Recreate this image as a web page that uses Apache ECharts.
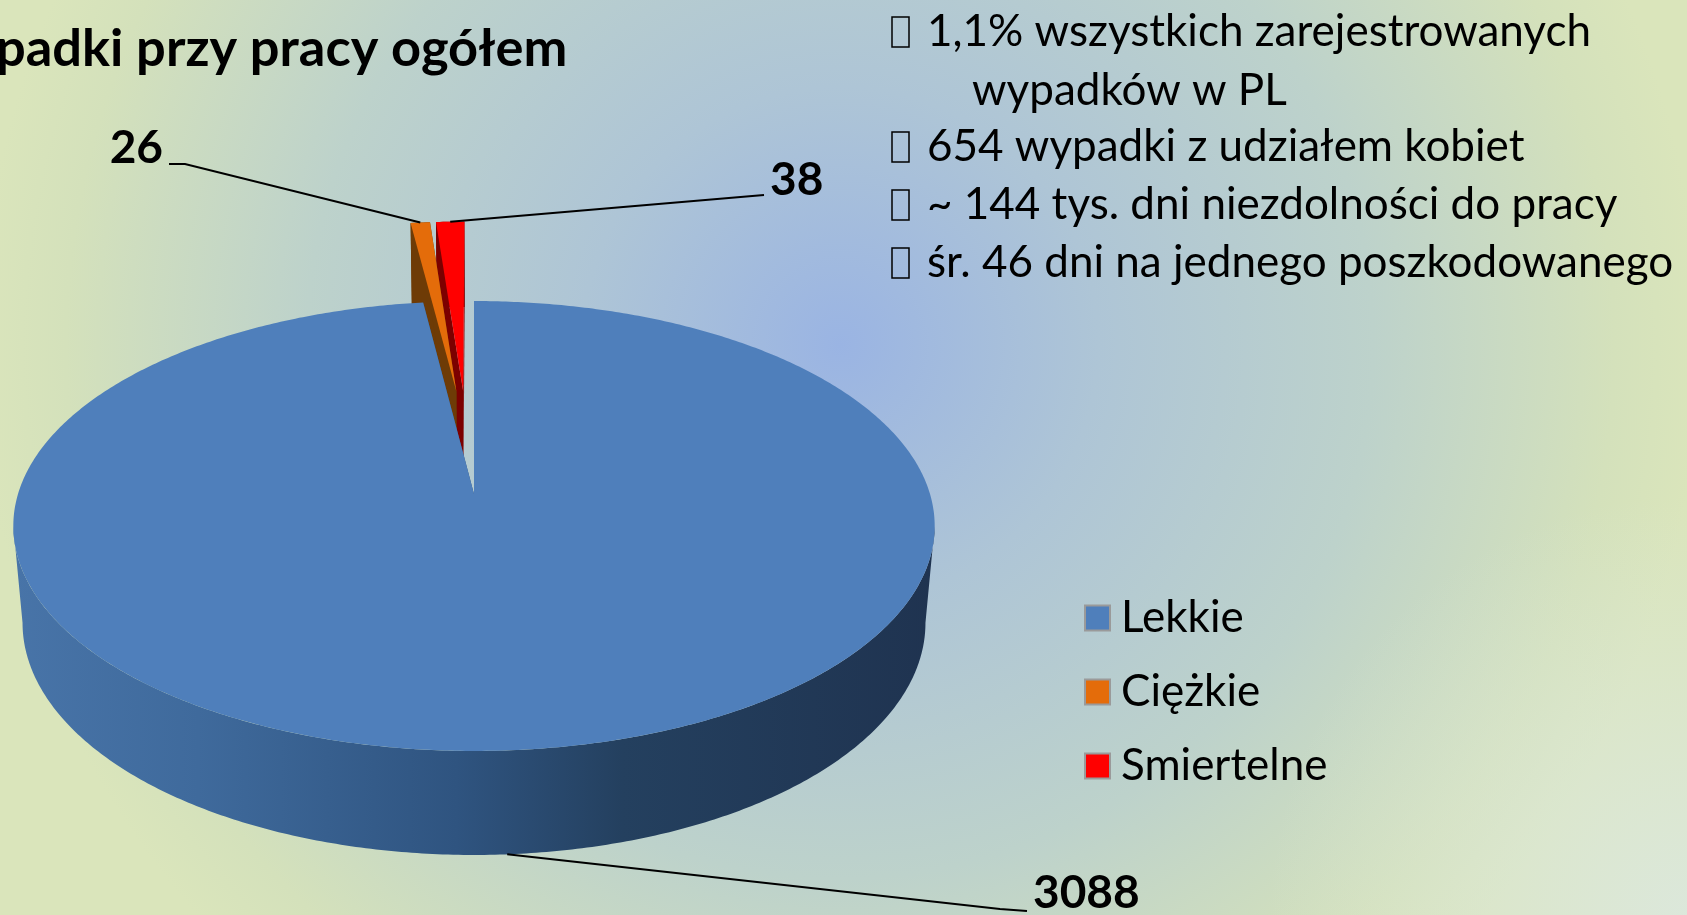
<!DOCTYPE html>
<html>
<head>
<meta charset="utf-8">
<title>Wypadki przy pracy</title>
<style>
    html, body { margin: 0; padding: 0; }
    #main { width: 1687px; height: 915px; }
</style>
<script src="https://cdn.jsdelivr.net/npm/echarts@6/dist/echarts.min.js"></script>
</head>
<body>
<div id="main"></div>
<script>
const categories = ['Lekkie', 'Ciężkie', 'Smiertelne'];
const values = [3088, 26, 38];
const titleText = 'padki przy pracy ogółem';
const noteLines = [
    '1,1% wszystkich zarejestrowanych',
    'wypadków w PL',
    '654 wypadki z udziałem kobiet',
    '~ 144 tys. dni niezdolności do pracy',
    'śr. 46 dni na jednego poszkodowanego'
];

const topColors = ['#4f7fbb', '#e46c0a', '#ff0000'];
const sideColors = ['#2f5480', '#6e3b06', '#7c0000'];
const fontName = 'Lato';

// projected disc: perspective so the near half is larger than the far half
const originX = 474, originY = 494, radiusX = 456, radiusY = 220.4, persp = 0.1422;
const depth = 95.7, wallPersp = 0.08, bottomScale = 0.98, explode = 0.25;

const total = values.reduce(function (a, b) { return a + b; }, 0);
const slices = [];
let acc = 0;
values.forEach(function (v) {
    const start = acc / total * Math.PI * 2;
    acc += v;
    const end = acc / total * Math.PI * 2;
    slices.push({ start: start, end: end, mid: (start + end) / 2 });
});

function offset(i) {
    // every slice is pushed out along its bisector, the big one is the origin
    const m = slices[i].mid, b = slices[0].mid;
    return [explode * (Math.sin(m) - Math.sin(b)), -explode * (Math.cos(m) - Math.cos(b))];
}
function project(u, v, low) {
    const w = 1 - persp * v;
    let x = originX + radiusX * u / w;
    let y = originY + radiusY * v / w;
    if (low) {
        x = originX + (x - originX) * bottomScale;
        y += depth / (1 - wallPersp * v);
    }
    return [x, y];
}
function apex(i, low) {
    const o = offset(i);
    return project(o[0], o[1], low);
}
function rim(i, t, low) {
    const o = offset(i);
    return project(o[0] + Math.sin(t), o[1] - Math.cos(t), low);
}
function rimPoints(i, from, to, low) {
    const n = Math.max(2, Math.ceil((to - from) / 0.01));
    const pts = [];
    for (let k = 0; k <= n; k++) {
        pts.push(rim(i, from + (to - from) * k / n, low));
    }
    return pts;
}

// leader lines: start on the rim of the slice, then elbow and end by hand
const callouts = [
    { low: true, elbow: [1000, 909], end: [1027, 911], text: [1033, 893], align: 'left' },
    { low: false, elbow: [185, 164], end: [169, 164], text: [163, 148], align: 'right' },
    { low: false, elbow: [764, 195], end: [764, 195], text: [770, 180], align: 'left' }
];

function wallFill(i) {
    if (i !== 0) {
        return sideColors[i];
    }
    return {
        type: 'linear', x: 14, y: 0, x2: 936, y2: 0, global: true,
        colorStops: [
            { offset: 0, color: '#4874a8' },
            { offset: 0.2, color: '#3f6a9c' },
            { offset: 0.48, color: '#2f5480' },
            { offset: 0.66, color: '#24405f' },
            { offset: 1, color: '#1f3350' }
        ]
    };
}

function renderSlice(i) {
    return function () {
        const s = slices[i];
        const upper = rimPoints(i, s.start, s.end, false);
        const a = apex(i, false), aLow = apex(i, true);
        const children = [];
        const poly = function (points, fill) {
            children.push({ type: 'polygon', shape: { points: points }, style: { fill: fill } });
        };
        // big slice: wall runs between the two tangent points of the rim, so the ends give the straight silhouette
        const tangent = Math.acos(-persp);
        const wallFrom = i === 0 ? tangent : s.start;
        const wallTo = i === 0 ? Math.PI * 2 - tangent : s.end;
        poly(rimPoints(i, wallFrom, wallTo, false).concat(rimPoints(i, wallFrom, wallTo, true).reverse()), wallFill(i));
        poly([a, rim(i, s.start, false), rim(i, s.start, true), aLow], sideColors[i]);
        poly([a, rim(i, s.end, false), rim(i, s.end, true), aLow], sideColors[i]);
        poly([a].concat(upper), topColors[i]);

        const c = callouts[i];
        const from = rim(i, s.mid, c.low);
        children.push({
            type: 'polyline',
            z2: 5,
            shape: { points: [from, c.elbow, c.end] },
            style: { stroke: '#000', lineWidth: 2, fill: null }
        });
        children.push({
            type: 'text',
            z2: 5,
            style: {
                text: String(values[i]),
                x: c.text[0], y: c.text[1],
                align: c.align, verticalAlign: 'middle',
                fill: '#000',
                font: 'bold 46px ' + fontName
            }
        });
        return { type: 'group', children: children };
    };
}

const chart = echarts.init(document.getElementById('main'));

// draw order: the small slices sit behind the big one
const series = [2, 1, 0].map(function (i) {
    return {
        name: categories[i],
        type: 'custom',
        coordinateSystem: 'none',
        renderItem: renderSlice(i),
        data: [values[i]],
        itemStyle: { color: topColors[i], borderColor: '#9a9a9a', borderWidth: 1 },
        silent: true,
        animation: false
    };
});

const noteRows = [
    { x: 927, y: 32, bullet: true },
    { x: 972, y: 91, bullet: false },
    { x: 927, y: 147, bullet: true },
    { x: 927, y: 205, bullet: true },
    { x: 927, y: 263, bullet: true }
];
// paler patch in the lower right corner of the slide
const graphics = [{
    type: 'rect',
    z: -1,
    silent: true,
    shape: { x: 0, y: 0, width: 1687, height: 915 },
    style: {
        fill: {
            type: 'radial', x: 1687, y: 915, r: 420, global: true,
            colorStops: [
                { offset: 0, color: 'rgba(220,232,224,0.85)' },
                { offset: 1, color: 'rgba(220,232,224,0)' }
            ]
        }
    }
}];
noteLines.forEach(function (line, i) {
    const r = noteRows[i];
    graphics.push({
        type: 'text',
        style: {
            text: line, x: r.x, y: r.y,
            verticalAlign: 'middle',
            fill: '#000',
            font: '44px ' + fontName
        }
    });
    if (r.bullet) {
        graphics.push({
            type: 'rect',
            shape: { x: 892, y: r.y - 15, width: 17, height: 30 },
            style: { fill: 'none', stroke: '#000', lineWidth: 1.5 }
        });
    }
});

chart.setOption({
    animation: false,
    backgroundColor: {
        type: 'radial', x: 840, y: 345, r: 860, global: true,
        colorStops: [
            { offset: 0, color: '#9ab4e3' },
            { offset: 0.3, color: '#aec5d6' },
            { offset: 0.62, color: '#bdd2cb' },
            { offset: 0.9, color: '#d4e1bb' },
            { offset: 1, color: '#dae5bb' }
        ]
    },
    title: {
        text: titleText,
        left: -4,
        top: 23,
        padding: 0,
        textStyle: { color: '#000', fontFamily: fontName, fontWeight: 'bold', fontSize: 52.4 }
    },
    legend: {
        data: categories,
        orient: 'vertical',
        left: 1084,
        top: 596,
        padding: 0,
        icon: 'rect',
        itemWidth: 25,
        itemHeight: 25,
        itemGap: 30,
        selectedMode: false,
        textStyle: { color: '#000', fontFamily: fontName, fontSize: 44, lineHeight: 44, padding: [0, 0, 0, 6] }
    },
    graphic: graphics,
    series: series
});
</script>
</body>
</html>
